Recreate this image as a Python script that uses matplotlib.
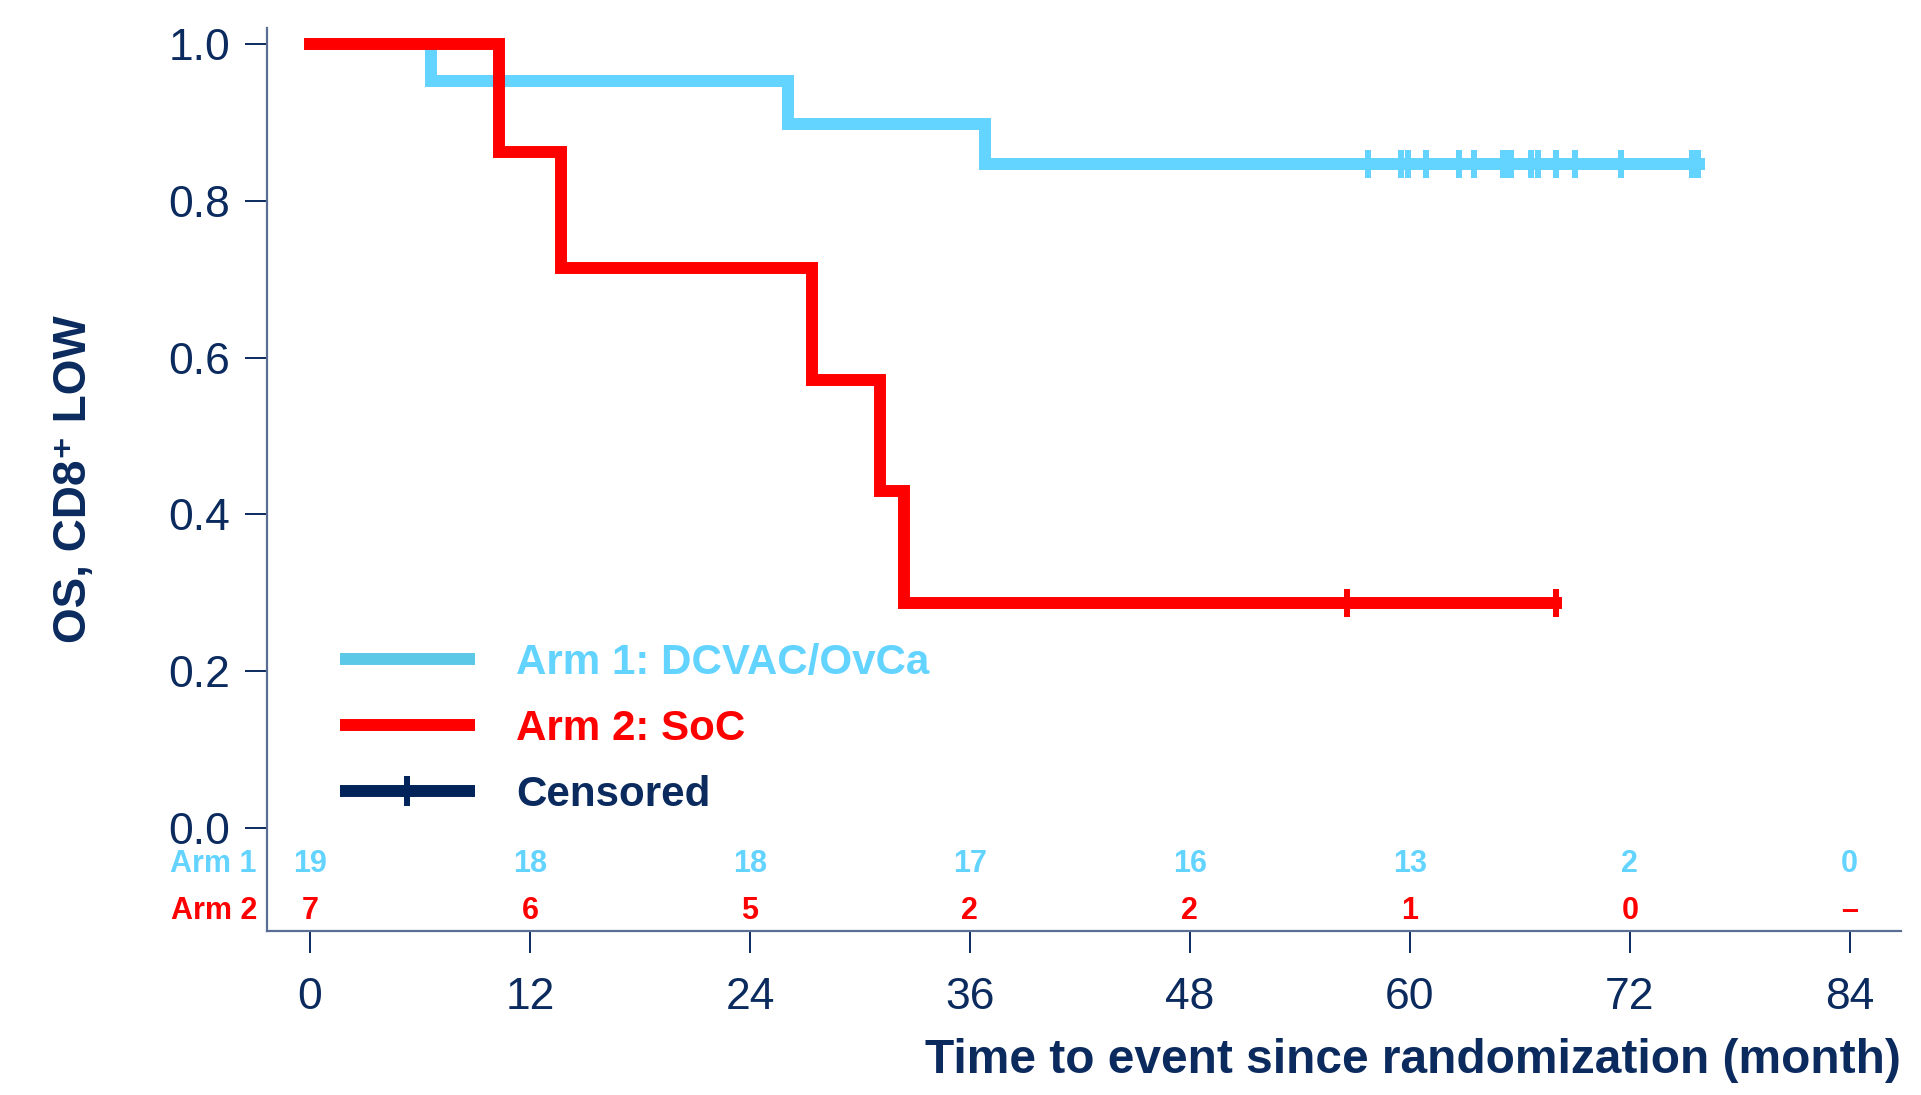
import matplotlib
matplotlib.use("Agg")
import matplotlib.pyplot as plt
from matplotlib.lines import Line2D

plt.rcParams['font.family'] = ['Liberation Sans', 'DejaVu Sans']

NAVY = "#0B2A5E"
BLUE = "#63D3FF"
RED = "#FF0000"

# Kaplan-Meier steps
arm1_time = [0, 6.6, 26.1, 36.8, 75.8]
arm1_surv = [1.0, 0.953, 0.898, 0.847, 0.847]
arm1_censor = [57.7, 59.5, 59.9, 60.9, 62.7, 63.5, 65.1, 65.3, 65.5,
               66.6, 67.0, 68.0, 69.0, 71.5, 75.4, 75.7]

arm2_time = [0, 10.3, 13.7, 27.4, 31.1, 32.4, 68.0]
arm2_surv = [1.0, 0.862, 0.714, 0.572, 0.43, 0.287, 0.287]
arm2_censor = [56.6, 68.0]

# number at risk
risk_times = [0, 12, 24, 36, 48, 60, 72, 84]
arm1_risk = ["19", "18", "18", "17", "16", "13", "2", "0"]
arm2_risk = ["7", "6", "5", "2", "2", "1", "0", "\u2013"]

yticks = [0.0, 0.2, 0.4, 0.6, 0.8, 1.0]


def surv_at(times, surv, t):
    """step value of a KM curve at time t"""
    val = surv[0]
    for ti, si in zip(times, surv):
        if ti <= t:
            val = si
    return val


fig = plt.figure(figsize=(19.21, 10.95), dpi=100)
ax = fig.add_axes([0.139, 0.1498, 0.8506, 0.8246])

lw = 8.6
ax.step(arm1_time, arm1_surv, where="post", color=BLUE, lw=lw,
        solid_capstyle="projecting", solid_joinstyle="miter", zorder=3)
ax.plot(arm1_censor, [surv_at(arm1_time, arm1_surv, t) for t in arm1_censor],
        ls="none", marker="|", ms=20, mew=4.3, color=BLUE, zorder=3)

ax.step(arm2_time, arm2_surv, where="post", color=RED, lw=lw,
        solid_capstyle="projecting", solid_joinstyle="miter", zorder=4)
ax.plot(arm2_censor, [surv_at(arm2_time, arm2_surv, t) for t in arm2_censor],
        ls="none", marker="|", ms=20, mew=4.3, color=RED, zorder=4)

ax.set_xlim(-2.35, 86.8)
ax.set_ylim(-0.1314, 1.0204)
ax.set_xticks(risk_times)
ax.set_yticks(yticks)
ax.set_yticklabels([f"{v:.1f}" for v in yticks])

for side in ("top", "right"):
    ax.spines[side].set_visible(False)
for side in ("left", "bottom"):
    ax.spines[side].set_color("#5A6E93")
    ax.spines[side].set_linewidth(1.6)

ax.tick_params(axis="both", direction="out", length=15.5, width=1.4,
               color=NAVY, labelcolor=NAVY, labelsize=32)
ax.tick_params(axis="x", pad=18)
ax.tick_params(axis="y", pad=11)

ax.set_xlabel("Time to event since randomization (month)", loc="right",
              fontsize=34.5, fontweight="bold", color=NAVY, labelpad=14)
ax.set_ylabel("OS, CD8\u207a LOW", fontsize=33, fontweight="bold",
              color=NAVY, labelpad=52)

# number at risk table
for t, a1, a2 in zip(risk_times, arm1_risk, arm2_risk):
    ax.text(t, -0.046, a1, ha="center", va="center", fontsize=22,
            fontweight="bold", color=BLUE)
    ax.text(t, -0.106, a2, ha="center", va="center", fontsize=22,
            fontweight="bold", color=RED)
ax.text(-2.9, -0.046, "Arm 1", ha="right", va="center", fontsize=22,
        fontweight="bold", color=BLUE, clip_on=False)
ax.text(-2.9, -0.106, "Arm 2", ha="right", va="center", fontsize=22,
        fontweight="bold", color=RED, clip_on=False)

handles = [
    Line2D([0], [0], color="#5BC8E8", lw=lw, solid_capstyle="butt"),
    Line2D([0], [0], color=RED, lw=lw, solid_capstyle="butt"),
    Line2D([0], [0], color="#00245A", lw=lw, marker="|", ms=22, mew=4.3,
           solid_capstyle="butt"),
]
labels = ["Arm 1: DCVAC/OvCa", "Arm 2: SoC", "Censored"]
leg = ax.legend(handles, labels, loc="upper left",
                bbox_to_anchor=(340 / 1921, 1 - 643 / 1095),
                bbox_transform=fig.transFigure, frameon=False,
                borderpad=0, borderaxespad=0, handlelength=3.2,
                handletextpad=0.98, labelspacing=0.62,
                prop={"size": 30.3, "weight": "bold"})
for txt, c in zip(leg.get_texts(), [BLUE, RED, NAVY]):
    txt.set_color(c)

fig.savefig("out.png", dpi=100)
